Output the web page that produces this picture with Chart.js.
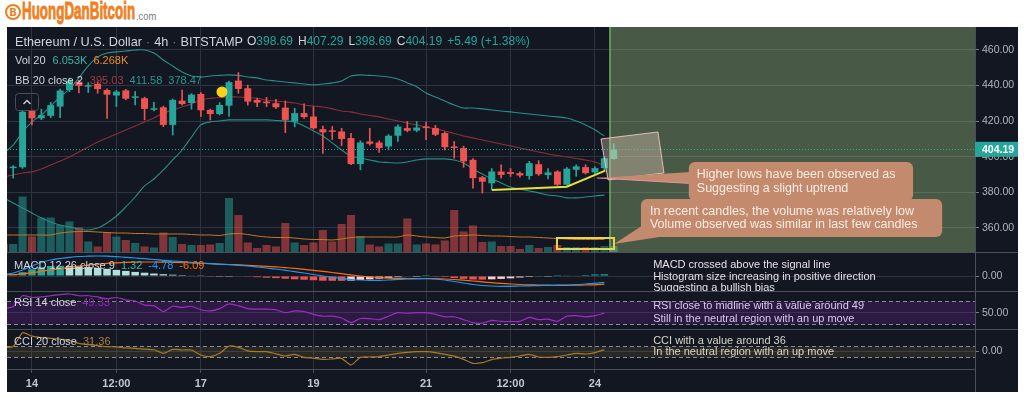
<!DOCTYPE html>
<html>
<head>
<meta charset="utf-8">
<title>Ethereum / U.S. Dollar 4h</title>
<script src="https://cdn.jsdelivr.net/npm/chart.js@4.4.1/dist/chart.umd.min.js"></script>
<style>
  html, body { margin: 0; padding: 0; background: #fff; }
  body { width: 1024px; height: 398px; position: relative; overflow: hidden; font-family: 'Liberation Sans', Arial, sans-serif; }
  #logo { position: absolute; left: 0; top: 0; width: 200px; height: 26px; }
  #logo .coin { position: absolute; left: 5px; top: 4px; width: 12px; height: 12px; border: 2.5px solid #f07f22; border-radius: 50%;
                color: #f07f22; font: bold 10px 'DejaVu Sans', sans-serif; display: flex; align-items: center; justify-content: center; }
  #logo .name { position: absolute; left: 22px; top: -1px; color: #f07f22; font: bold 23px 'Liberation Sans', sans-serif;
                -webkit-text-stroke: 0.9px #f07f22; white-space: nowrap; transform-origin: 0 0; line-height: 25px; }
  #logo .tld { position: absolute; left: 136px; top: 10px; color: #7d7d7d; font: 11px 'Liberation Sans', sans-serif;
               white-space: nowrap; transform-origin: 0 0; transform: scaleX(0.85); }
  #frame { position: absolute; left: 7px; top: 27px; width: 1011px; height: 365px; background: #131722; }
  #frame canvas { position: absolute; left: 0; }
</style>
</head>
<body>
<div id="logo"><span class="coin">B</span><span class="name" id="logoName">HuongDanBitcoin</span><span class="tld">.com</span></div>
<div id="frame">
  <canvas id="priceChart" width="1011" height="225" style="top:0"></canvas>
  <canvas id="macdChart" width="1011" height="39" style="top:225px"></canvas>
  <canvas id="rsiChart" width="1011" height="38" style="top:264px"></canvas>
  <canvas id="cciChart" width="1011" height="63" style="top:302px"></canvas>
</div>
<script>
// squeeze the logo word into its box
const logoName = document.getElementById('logoName');
logoName.style.transform = 'scaleX(' + (113 / logoName.offsetWidth) + ')';

// ---- data: 66 four-hour candles, ETH/USD Bitstamp ----
const opens = [394.2, 393.6, 394.1, 425.8, 421.6, 423.0, 428.2, 437.5, 442.2, 439.4,
  440.9, 437.5, 434.4, 437.3, 433.1, 432.9, 426.4, 427.8, 417.9, 431.5,
  430.2, 435.3, 426.3, 424.0, 428.7, 442.8, 438.5, 431.9, 431.0, 430.1,
  427.6, 419.8, 424.5, 422.6, 415.5, 414.6, 414.2, 410.5, 395.9, 408.6,
  408.0, 405.8, 411.8, 416.1, 414.7, 417.0, 416.1, 413.3, 405.8, 404.9,
  398.3, 388.5, 385.1, 391.7, 391.4, 390.8, 389.2, 395.8, 389.7, 391.7,
  384.3, 392.7, 394.2, 391.2, 393.6, 398.69];
const highs = [394.5, 395.0, 426.0, 426.2, 426.7, 430.5, 438.0, 444.1, 443.0, 441.6,
  442.2, 438.2, 437.3, 437.9, 436.7, 433.5, 430.6, 428.5, 432.5, 437.5,
  435.5, 436.0, 426.8, 430.4, 442.5, 447.3, 440.3, 433.0, 433.4, 432.2,
  431.3, 427.2, 429.7, 428.2, 417.3, 417.0, 416.0, 413.2, 409.0, 416.0,
  409.0, 412.5, 418.0, 419.8, 419.8, 419.5, 417.7, 414.0, 408.6, 406.0,
  399.0, 389.0, 393.4, 395.5, 393.4, 391.5, 397.4, 397.8, 393.4, 392.2,
  394.0, 395.5, 395.5, 394.3, 399.8, 407.29];
const lows = [393.5, 388.0, 393.5, 417.9, 420.8, 422.0, 422.0, 436.6, 435.8, 436.1,
  435.7, 421.6, 428.2, 432.0, 429.1, 420.7, 425.8, 416.9, 412.2, 429.0,
  426.7, 422.6, 420.7, 423.5, 422.6, 435.7, 429.0, 428.1, 428.2, 427.0,
  413.5, 416.8, 421.5, 415.5, 401.9, 409.7, 406.2, 395.5, 392.7, 406.5,
  402.4, 403.9, 408.6, 414.0, 414.0, 409.6, 411.8, 403.9, 399.2, 394.1,
  382.3, 379.6, 381.7, 388.0, 388.9, 388.5, 387.4, 389.5, 387.6, 383.9,
  384.0, 389.0, 390.3, 390.3, 392.4, 398.69];
const closes = [393.8, 394.2, 425.3, 421.6, 423.4, 429.0, 437.2, 442.8, 439.8, 440.2,
  438.0, 434.9, 436.6, 432.6, 433.9, 426.9, 427.2, 417.9, 431.9, 429.6,
  434.9, 426.1, 424.0, 429.1, 441.9, 438.1, 431.0, 430.4, 430.1, 427.8,
  420.7, 424.5, 422.3, 416.0, 413.7, 414.0, 410.0, 395.9, 408.0, 407.3,
  404.9, 411.8, 417.0, 414.6, 416.4, 416.1, 412.4, 405.4, 404.9, 397.4,
  388.0, 386.0, 391.7, 389.8, 390.4, 389.5, 396.4, 390.2, 391.2, 384.3,
  393.3, 394.6, 390.8, 393.6, 399.2, 404.19];
// volume in thousands of ETH
const volume = [4, 4, 27.75, 7.75, 17.25, 17.25, 13.5, 15.25, 12.25, 5.25,
  2.75, 10, 7.75, 6, 4.5, 2.75, 2.25, 9.75, 7.5, 4,
  3.5, 3.5, 3.75, 4.5, 27, 18.5, 4.75, 2, 3.5, 2.75,
  14.5, 4.75, 3.5, 4.75, 11, 5.25, 14, 18.5, 8, 3.75,
  2.75, 4.25, 4.25, 16.75, 3.75, 4.25, 3.75, 5.75, 21, 10.25,
  13.25, 5, 5.25, 3, 3, 1.5, 3.5, 2, 2.5, 3.5,
  2.5, 2.5, 2.5, 2.5, 3, 3];
const volMA = [8.5, 8.5, 8.5, 8.5, 8.5, 8.5, 9.5, 10, 10.25, 10.25,
  10, 9.75, 9.5, 9.5, 9.25, 9.25, 9, 9, 9, 9,
  8.75, 8.5, 8.5, 8.25, 9, 9.25, 8.75, 8, 7.5, 7.25,
  7.25, 7, 6.5, 6.25, 6.25, 6, 6.5, 7.25, 7.5, 7.5,
  7.5, 7.5, 7.5, 8.5, 8, 7.5, 7.25, 7, 8, 8.25,
  8.5, 8.25, 8, 8, 7.75, 7.5, 7.5, 7.25, 7, 6.75,
  6.5, 6.25, 6.25, 6.25, 6.268, null];
const bbUpper = [402.1, 406.6, 413.9, 419.6, 423.5, 428.5, 433.6, 438.1, 444.3, 451.0,
  456.1, 458.3, 458.9, 459.4, 460.0, 460.0, 458.3, 454.4, 451.0, 447.6,
  445.4, 444.8, 445.4, 445.7, 446.0, 445.7, 444.8, 444.3, 443.1, 442.6,
  442.0, 441.5, 440.9, 440.4, 440.9, 441.5, 442.6, 445.4, 446.0, 445.7,
  445.4, 444.8, 443.7, 441.5, 439.3, 435.8, 433.6, 431.3, 429.1, 427.4,
  427.4, 426.9, 426.3, 425.7, 425.2, 424.6, 424.0, 423.5, 422.9, 422.4,
  421.8, 420.1, 417.9, 415.2, 411.58, null];
const bbBasis = [388.7, 389.8, 390.9, 391.5, 393.1, 395.4, 397.6, 399.9, 402.7, 405.5,
  408.3, 410.6, 412.8, 415.1, 417.3, 419.6, 421.8, 424.6, 426.3, 428.0,
  429.7, 431.9, 432.8, 433.3, 433.6, 433.6, 433.3, 432.8, 431.9, 431.3,
  430.8, 430.2, 429.1, 428.5, 428.0, 426.9, 425.7, 425.2, 424.0, 423.2,
  422.4, 421.2, 420.1, 419.0, 417.9, 416.7, 415.6, 414.5, 413.1, 411.7,
  410.6, 409.4, 408.3, 407.2, 406.1, 404.9, 403.8, 402.7, 401.6, 400.7,
  399.9, 399.0, 398.2, 397.1, 395.03, null];
const bbLower = [376.9, 374.0, 371.2, 368.4, 365.6, 363.4, 361.7, 360.6, 359.4, 358.9,
  360.0, 362.8, 366.7, 371.8, 377.4, 383.6, 387.5, 392.6, 398.2, 403.8,
  411.1, 417.9, 419.6, 420.1, 420.7, 420.7, 420.7, 420.7, 420.7, 420.4,
  420.1, 419.6, 417.3, 414.5, 411.7, 407.8, 403.8, 400.4, 399.3, 398.2,
  397.1, 396.8, 396.5, 397.1, 398.2, 398.8, 398.8, 398.8, 398.2, 396.5,
  393.1, 390.3, 387.5, 385.3, 383.0, 381.9, 380.8, 379.7, 378.5, 378.0,
  376.9, 376.9, 377.4, 378.0, 378.47, null];
const macdLine = [1.14, 2.27, 4.55, 7.58, 10.23, 12.12, 13.26, 14.17, 14.77, 15.0,
  15.15, 15.0, 14.62, 14.17, 13.64, 13.11, 12.5, 11.89, 11.36, 10.83,
  10.38, 9.85, 9.32, 8.86, 8.56, 8.11, 7.58, 6.82, 6.06, 5.30,
  4.32, 3.26, 2.27, 1.14, 0, -0.98, -1.89, -2.65, -3.03, -3.26,
  -3.26, -3.03, -2.65, -2.27, -2.05, -1.89, -2.27, -3.03, -4.17, -5.30,
  -6.44, -7.20, -7.58, -7.80, -7.80, -7.58, -7.42, -7.27, -7.12, -6.97,
  -6.82, -6.52, -6.06, -5.53, -4.78, null];
const signalLine = [0.91, 1.14, 1.67, 2.50, 3.48, 4.55, 5.53, 6.52, 7.42, 8.26,
  8.94, 9.55, 10.0, 10.3, 10.53, 10.61, 10.61, 10.53, 10.38, 10.15,
  9.92, 9.62, 9.32, 9.02, 8.71, 8.41, 8.11, 7.73, 7.35, 6.89,
  6.36, 5.76, 5.08, 4.32, 3.56, 2.65, 1.74, 0.83, 0, -0.68,
  -1.21, -1.59, -1.82, -1.89, -1.97, -1.97, -2.05, -2.27, -2.65, -3.18,
  -3.79, -4.47, -5.08, -5.61, -6.06, -6.44, -6.67, -6.82, -6.97, -7.05,
  -7.05, -6.97, -6.82, -6.67, -6.09, null];
const macdHist = [0.23, 1.13, 2.88, 5.08, 6.75, 7.57, 7.73, 7.65, 7.35, 6.74,
  6.21, 5.45, 4.62, 3.87, 3.11, 2.50, 1.89, 1.36, 0.98, 0.68,
  0.46, 0.23, -0.2, -0.16, -0.15, -0.30, -0.53, -0.91, -1.29, -1.59,
  -2.04, -2.50, -2.81, -3.18, -3.56, -3.63, -3.63, -3.48, -3.03, -2.58,
  -2.05, -1.44, -0.83, -0.38, -0.08, 0.08, -0.22, -0.76, -1.52, -2.12,
  -2.65, -2.73, -2.50, -2.19, -1.74, -1.14, -0.75, -0.45, -0.15, 0.08,
  0.23, 0.45, 0.76, 1.14, 1.32, null];
const rsiVals = [58, 60, 79, 76, 77, 79, 81, 82, 79, 79,
  77, 74, 76, 72, 70, 63, 62, 52, 61, 59,
  61, 55, 53, 57, 65, 62, 57, 56, 56, 55,
  50, 53, 52, 47, 44, 44, 41, 33, 40, 40,
  38, 44, 50, 49, 50, 50, 47, 43, 43, 38,
  33, 32, 37, 35, 35, 35, 42, 38, 39, 35,
  44, 45, 43, 45, 49.33, null];
const cciVals = [70, 85, 325, 265, 240, 227, 215, 190, 141, 120,
  100, 83, 80, 60, 55, 40, 30, -32, 37, 26,
  26, -60, -89, -32, 95, 72, 10, -3, -3, -40,
  -78, -49, -101, -115, -135, -128, -118, -233, -101, -95,
  -89, -60, -32, -15, -3, -3, -20, -49, -80, -135,
  -204, -193, -140, -115, -101, -78, -49, -95, -101, -90,
  -60, -32, -43, -20, 31.36, null];

const timeTicks = [3, 12, 21, 33, 45, 54, 63];
const timeLabels = ['14', '12:00', '17', '19', '21', '12:00', '24'];
const priceTicks = [360, 380, 400, 420, 440, 460];
const lastPrice = 404.19;

// ---- drawings on the price pane (candle index, price) ----
const zoneStart = 64.6;
const trendIdx = [52, 60, 64.1];
const trendPrice = [381.3, 383.2, 392.2];
const volBoxIdx = [58.95, 65.03];
const volBoxVal = [1.5, 7];
const hiliteIdx = [63.64, 69.71, 70.35, 64.39];
const hilitePrice = [410.0, 413.9, 390.9, 387.0];
const dotIdx = 23.25, dotPrice = 436.4;
const callouts = [
  { i: [73.0, 96.9], p: [397.1, 375.2], pad: 8,
    tail: [[73.2, 391.5], [73.2, 385.0], [63.2, 388.1]], edge: true,
    lines: ['Higher lows have been observed as', 'Suggesting a slight uptrend'] },
  { i: [67.9, 100.0], p: [376.3, 354.9], pad: 9,
    tail: [[67.95, 361.0], [70.2, 355.2], [65.03, 351.0]],
    lines: ['In recent candles, the volume was relatively low', 'Volume observed was similar in last few candles'] }
];

// ---- look ----
const GRID = '#2e3342', SEP = '#4b4f5b', TXT = '#d1d4dc', AXIS_TXT = '#b2b5be';
const UP = '#26a69a', DOWN = '#ef5350';
const BAND = '#288e87';
const FONT = "'Liberation Sans', Arial, sans-serif";
const X_MIN = 0.34, X_MAX = 103.5, AXIS_W = 43;

Chart.defaults.font.family = FONT;
Chart.defaults.animation = false;
Chart.defaults.plugins.legend.display = false;
Chart.defaults.plugins.tooltip.enabled = false;

const pts = arr => arr.map((v, i) => ({ x: i, y: v }));
const isUp = i => closes[i] >= opens[i];
const byDir = (a, b) => ctx => isUp(ctx.dataIndex) ? a : b;

function xScale(showLabels) {
  return {
    type: 'linear', min: X_MIN, max: X_MAX, offset: false,
    afterBuildTicks: s => { s.ticks = timeTicks.map(v => ({ value: v })); },
    afterFit: s => { s.paddingLeft = 0; s.paddingRight = 0; s.height = showLabels ? 23 : 0; },
    grid: { color: GRID, offset: false, drawTicks: showLabels, tickLength: 4, tickColor: SEP },
    border: { display: showLabels, color: SEP },
    ticks: { display: showLabels, color: '#c3c6ce', font: { size: 11, weight: 'bold' }, padding: 4,
             maxRotation: 0, autoSkip: false, callback: (v, i) => timeLabels[i] }
  };
}

function yScale(min, max, ticks) {
  return {
    position: 'right', min, max,
    afterBuildTicks: s => { s.ticks = ticks.map(v => ({ value: v })); },
    afterFit: s => { s.width = AXIS_W; s.paddingTop = 0; s.paddingBottom = 0; },
    grid: { color: GRID, tickLength: 4, tickColor: '#787b86' },
    border: { color: SEP },
    ticks: { color: AXIS_TXT, font: { size: 10.5 }, padding: 3, callback: v => v.toFixed(2) }
  };
}

function drawRuns(ctx, x, y, runs, size) {
  ctx.font = size + 'px ' + FONT;
  ctx.textBaseline = 'middle';
  ctx.textAlign = 'left';
  runs.forEach(([t, c, gap = 5]) => {
    ctx.fillStyle = c;
    ctx.fillText(t, x, y);
    x += ctx.measureText(t).width + gap;
  });
  return x;
}

function pathThrough(ctx, points) {
  ctx.beginPath();
  points.forEach(([px, py], k) => k ? ctx.lineTo(px, py) : ctx.moveTo(px, py));
}

const last = opens.length - 1;

const priceOverlay = {
  id: 'priceOverlay',
  afterDatasetsDraw(chart) {
    const { ctx, chartArea: a, scales: { x, y, vol } } = chart;
    const P = (i, v, s = y) => [x.getPixelForValue(i), s.getPixelForValue(v)];
    ctx.save();
    ctx.beginPath();
    ctx.rect(a.left, a.top, a.width, a.height);
    ctx.clip();

    // shaded zone to the right of the latest candles
    const zx = x.getPixelForValue(zoneStart);
    ctx.fillStyle = 'rgba(182,226,143,0.33)';
    ctx.fillRect(zx, a.top, a.right - zx, a.height);
    ctx.strokeStyle = '#6db45e';
    ctx.lineWidth = 1.5;
    pathThrough(ctx, [[zx, a.top], [zx, a.bottom]]);
    ctx.stroke();

    // last price line
    const ly = Math.round(y.getPixelForValue(lastPrice)) + 0.5;
    ctx.setLineDash([1, 2]);
    ctx.strokeStyle = UP;
    ctx.lineWidth = 1;
    pathThrough(ctx, [[a.left, ly], [a.right, ly]]);
    ctx.stroke();
    ctx.setLineDash([]);

    // higher lows trend line
    ctx.strokeStyle = '#e2e03a';
    ctx.lineWidth = 2;
    pathThrough(ctx, trendIdx.map((i, k) => P(i, trendPrice[k])));
    ctx.stroke();

    // low volume box
    const [vx0, vy0] = P(volBoxIdx[0], volBoxVal[1], vol);
    const [vx1, vy1] = P(volBoxIdx[1], volBoxVal[0], vol);
    ctx.strokeStyle = '#e9d64a';
    ctx.strokeRect(vx0, vy0, vx1 - vx0, vy1 - vy0);

    // tilted highlight box
    pathThrough(ctx, hiliteIdx.map((i, k) => P(i, hilitePrice[k])));
    ctx.closePath();
    ctx.fillStyle = 'rgba(236,205,188,0.35)';
    ctx.fill();
    ctx.strokeStyle = 'rgba(240,200,190,0.9)';
    ctx.lineWidth = 1;
    ctx.stroke();

    // callouts
    callouts.forEach(c => {
      const [bx0, by0] = P(c.i[0], c.p[0]);
      const [bx1, by1] = P(c.i[1], c.p[1]);
      ctx.fillStyle = '#c48a6d';
      pathThrough(ctx, c.tail.map(([ti, tp]) => P(ti, tp)));
      ctx.closePath();
      ctx.fill();
      if (c.edge) {
        ctx.strokeStyle = 'rgba(236,150,175,0.9)';
        ctx.lineWidth = 1;
        pathThrough(ctx, [P(c.tail[2][0], c.tail[2][1]), P(c.tail[1][0], c.tail[1][1])]);
        ctx.stroke();
      }
      ctx.beginPath();
      ctx.roundRect(bx0, by0, bx1 - bx0, by1 - by0, 6);
      ctx.fill();
      ctx.fillStyle = '#f8ece2';
      ctx.font = '12.5px ' + FONT;
      ctx.textBaseline = 'middle';
      const cy = (by0 + by1) / 2, lh = 13.5;
      c.lines.forEach((t, k) => ctx.fillText(t, bx0 + c.pad, cy + (k - (c.lines.length - 1) / 2) * lh));
    });

    // marker dot
    const [dx, dy] = P(dotIdx, dotPrice);
    ctx.fillStyle = '#f6d31a';
    ctx.beginPath();
    ctx.arc(dx, dy, 5.5, 0, Math.PI * 2);
    ctx.fill();
    ctx.restore();
  },
  afterDraw(chart) {
    const { ctx, chartArea: a, scales: { y } } = chart;
    ctx.save();
    // legend
    const x1 = drawRuns(ctx, 8, 15, [['Ethereum / U.S. Dollar', TXT, 4], ['·', '#787b86', 4], ['4h', TXT, 4],
      ['·', '#787b86', 4], ['BITSTAMP', TXT, 4]], 12.7);
    drawRuns(ctx, x1, 15, [['O', TXT, 0], [opens[last].toFixed(2), UP, 5], ['H', TXT, 0], [highs[last].toFixed(2), UP, 5],
      ['L', TXT, 0], [lows[last].toFixed(2), UP, 5], ['C', TXT, 0], [closes[last].toFixed(2), UP, 5], ['+5.49 (+1.38%)', UP]], 12);
    drawRuns(ctx, 8, 34, [['Vol 20', TXT, 7], ['6.053K', '#3fb3a6', 6], ['6.268K', '#f08a24']], 11);
    drawRuns(ctx, 8, 54, [['BB 20 close 2', TXT, 7], [bbBasis[last - 1].toFixed(2), '#a23a42', 6],
      [bbUpper[last - 1].toFixed(2), '#2a978e', 6], [bbLower[last - 1].toFixed(2), '#2a978e']], 11);

    // collapse button
    ctx.strokeStyle = '#4a4e5a';
    ctx.lineWidth = 1;
    ctx.beginPath();
    ctx.roundRect(8.5, 66.5, 23, 17, 3);
    ctx.stroke();
    ctx.strokeStyle = TXT;
    ctx.lineWidth = 1.3;
    pathThrough(ctx, [[16.5, 77], [20, 73.5], [23.5, 77]]);
    ctx.stroke();

    // last price tag on the axis
    const ly = y.getPixelForValue(lastPrice);
    ctx.fillStyle = UP;
    ctx.fillRect(a.right, ly - 7.5, AXIS_W, 15);
    ctx.fillStyle = '#ffffff';
    ctx.font = 'bold 10.5px ' + FONT;
    ctx.textBaseline = 'middle';
    ctx.fillText(lastPrice.toFixed(2), a.right + 7, ly + 0.5);
    ctx.restore();
  }
};

new Chart(document.getElementById('priceChart'), {
  type: 'bar',
  data: {
    datasets: [
      { label: 'body', data: opens.map((o, i) => ({ x: i, y: [o, closes[i]] })), backgroundColor: byDir(UP, DOWN),
        barPercentage: 0.74, categoryPercentage: 1, grouped: false, minBarLength: 1.5, order: 0 },
      { label: 'wick', data: lows.map((l, i) => ({ x: i, y: [l, highs[i]] })), backgroundColor: byDir(UP, DOWN),
        barThickness: 1, grouped: false, order: 1 },
      { type: 'line', label: 'BB upper', data: pts(bbUpper), borderColor: BAND, borderWidth: 1.1, pointRadius: 0, tension: 0.3, order: 2 },
      { type: 'line', label: 'BB basis', data: pts(bbBasis), borderColor: '#8a2f38', borderWidth: 1.1, pointRadius: 0, tension: 0.3, order: 2 },
      { type: 'line', label: 'BB lower', data: pts(bbLower), borderColor: BAND, borderWidth: 1.1, pointRadius: 0, tension: 0.3, order: 2 },
      { type: 'line', label: 'Vol MA', data: pts(volMA), yAxisID: 'vol', borderColor: '#c8781e', borderWidth: 1, pointRadius: 0, tension: 0.3, order: 3 },
      { label: 'Volume', data: pts(volume), yAxisID: 'vol', backgroundColor: byDir('rgba(38,166,154,0.5)', 'rgba(239,83,80,0.5)'),
        barPercentage: 0.86, categoryPercentage: 1, grouped: false, order: 4 }
    ]
  },
  options: {
    responsive: false, devicePixelRatio: 1,
    layout: { padding: 0, autoPadding: false },
    scales: {
      x: xScale(false),
      y: yScale(346.5, 472.9, priceTicks),
      vol: { type: 'linear', axis: 'y', display: false, min: 0, max: 112.5 }
    }
  },
  plugins: [priceOverlay]
});

function panePlugin(cfg) {
  return {
    id: 'pane_' + cfg.name,
    beforeDatasetsDraw(chart) {
      if (!cfg.band) return;
      const { ctx, chartArea: a, scales: { y } } = chart;
      const y0 = Math.round(y.getPixelForValue(cfg.band[0])) + 0.5;
      const y1 = Math.round(y.getPixelForValue(cfg.band[1])) + 0.5;
      ctx.save();
      ctx.fillStyle = cfg.bandFill;
      ctx.fillRect(a.left, y0, a.width, y1 - y0);
      ctx.strokeStyle = '#8a8d96';
      ctx.setLineDash([4, 3]);
      ctx.lineWidth = 1;
      [y0, y1].forEach(py => { pathThrough(ctx, [[a.left, py], [a.right, py]]); ctx.stroke(); });
      ctx.restore();
    },
    afterDatasetsDraw(chart) {
      const { ctx, scales: { x, y } } = chart;
      const n = cfg.note;
      ctx.save();
      ctx.font = '11px ' + FONT;
      ctx.textBaseline = 'middle';
      ctx.fillStyle = n.color;
      const nx = x.getPixelForValue(n.i), ny = y.getPixelForValue(n.v);
      n.lines.forEach((t, k) => ctx.fillText(t, nx, ny + k * n.lh));
      ctx.restore();
    },
    afterDraw(chart) {
      const { ctx, chartArea: a } = chart;
      ctx.save();
      drawRuns(ctx, 7, cfg.legendY, cfg.legend, 11);
      ctx.strokeStyle = SEP;
      ctx.lineWidth = 1;
      pathThrough(ctx, [[0, 0.5], [chart.width, 0.5]]);
      ctx.stroke();
      if (cfg.bottom) {
        pathThrough(ctx, [[a.right + 0.5, a.bottom], [a.right + 0.5, chart.height]]);
        ctx.stroke();
      }
      ctx.restore();
    }
  };
}

const paneOptions = (yMin, yMax, ticks, showX) => ({
  responsive: false, devicePixelRatio: 1,
  layout: { padding: 0, autoPadding: false },
  scales: { x: xScale(showX), y: yScale(yMin, yMax, ticks) }
});

new Chart(document.getElementById('macdChart'), {
  type: 'bar',
  data: {
    datasets: [
      { type: 'line', label: 'MACD', data: pts(macdLine), borderColor: '#2196f3', borderWidth: 1.2, pointRadius: 0, tension: 0.3, order: 0 },
      { type: 'line', label: 'Signal', data: pts(signalLine), borderColor: '#ff6d00', borderWidth: 1.2, pointRadius: 0, tension: 0.3, order: 1 },
      { label: 'Histogram', data: pts(macdHist), barPercentage: 0.8, categoryPercentage: 1, grouped: false, order: 2,
        backgroundColor: ctx => {
          const i = ctx.dataIndex, h = macdHist[i], prev = i > 0 ? macdHist[i - 1] : h;
          if (h >= 0) return h >= prev ? '#26a69a' : '#b2dfdb';
          return h <= prev ? '#ef5350' : '#ffcdd2';
        } }
    ]
  },
  options: paneOptions(-11.36, 18.18, [0], false),
  plugins: [panePlugin({
    name: 'macd', legendY: 14,
    legend: [['MACD 12 26 close 9', TXT, 6], [macdHist[last - 1].toFixed(2), '#3fb3a6', 6],
             [macdLine[last - 1].toFixed(2), '#2196f3', 6], [signalLine[last - 1].toFixed(2), '#ff6d00']],
    note: { i: 69.2, v: 8.3, lh: 11.7, color: '#e8dfe8',
            lines: ['MACD crossed above the signal line', 'Histogram size increasing in positive direction', 'Suggesting a bullish bias'] }
  })]
});

new Chart(document.getElementById('rsiChart'), {
  type: 'line',
  data: { datasets: [{ label: 'RSI', data: pts(rsiVals), borderColor: '#9a2fc0', borderWidth: 1.2, pointRadius: 0, tension: 0.2 }] },
  options: paneOptions(22.1, 87.1, [50], false),
  plugins: [panePlugin({
    name: 'rsi', legendY: 12, band: [70, 30], bandFill: 'rgba(150,40,200,0.2)',
    legend: [['RSI 14 close', TXT, 6], [rsiVals[last - 1].toFixed(2), '#8a2aa8']],
    note: { i: 69.2, v: 61.5, lh: 13, color: '#dac8ee',
            lines: ['RSI close to midline with a value around 49', 'Still in the neutral region with an up move'] }
  })]
});

new Chart(document.getElementById('cciChart'), {
  type: 'line',
  data: { datasets: [{ label: 'CCI', data: pts(cciVals), borderColor: '#a8782a', borderWidth: 1.2, pointRadius: 0, tension: 0.2 }] },
  options: paneOptions(-302, 388, [0], true),
  plugins: [panePlugin({
    name: 'cci', legendY: 13, band: [100, -100], bandFill: 'rgba(170,150,60,0.14)', bottom: true,
    legend: [['CCI 20 close', TXT, 6], [cciVals[last - 1].toFixed(2), '#b08236']],
    note: { i: 69.2, v: 181, lh: 11, color: '#ddd6c6',
            lines: ['CCI with a value around 36', 'In the neutral region with an up move'] }
  })]
});
</script>
</body>
</html>
